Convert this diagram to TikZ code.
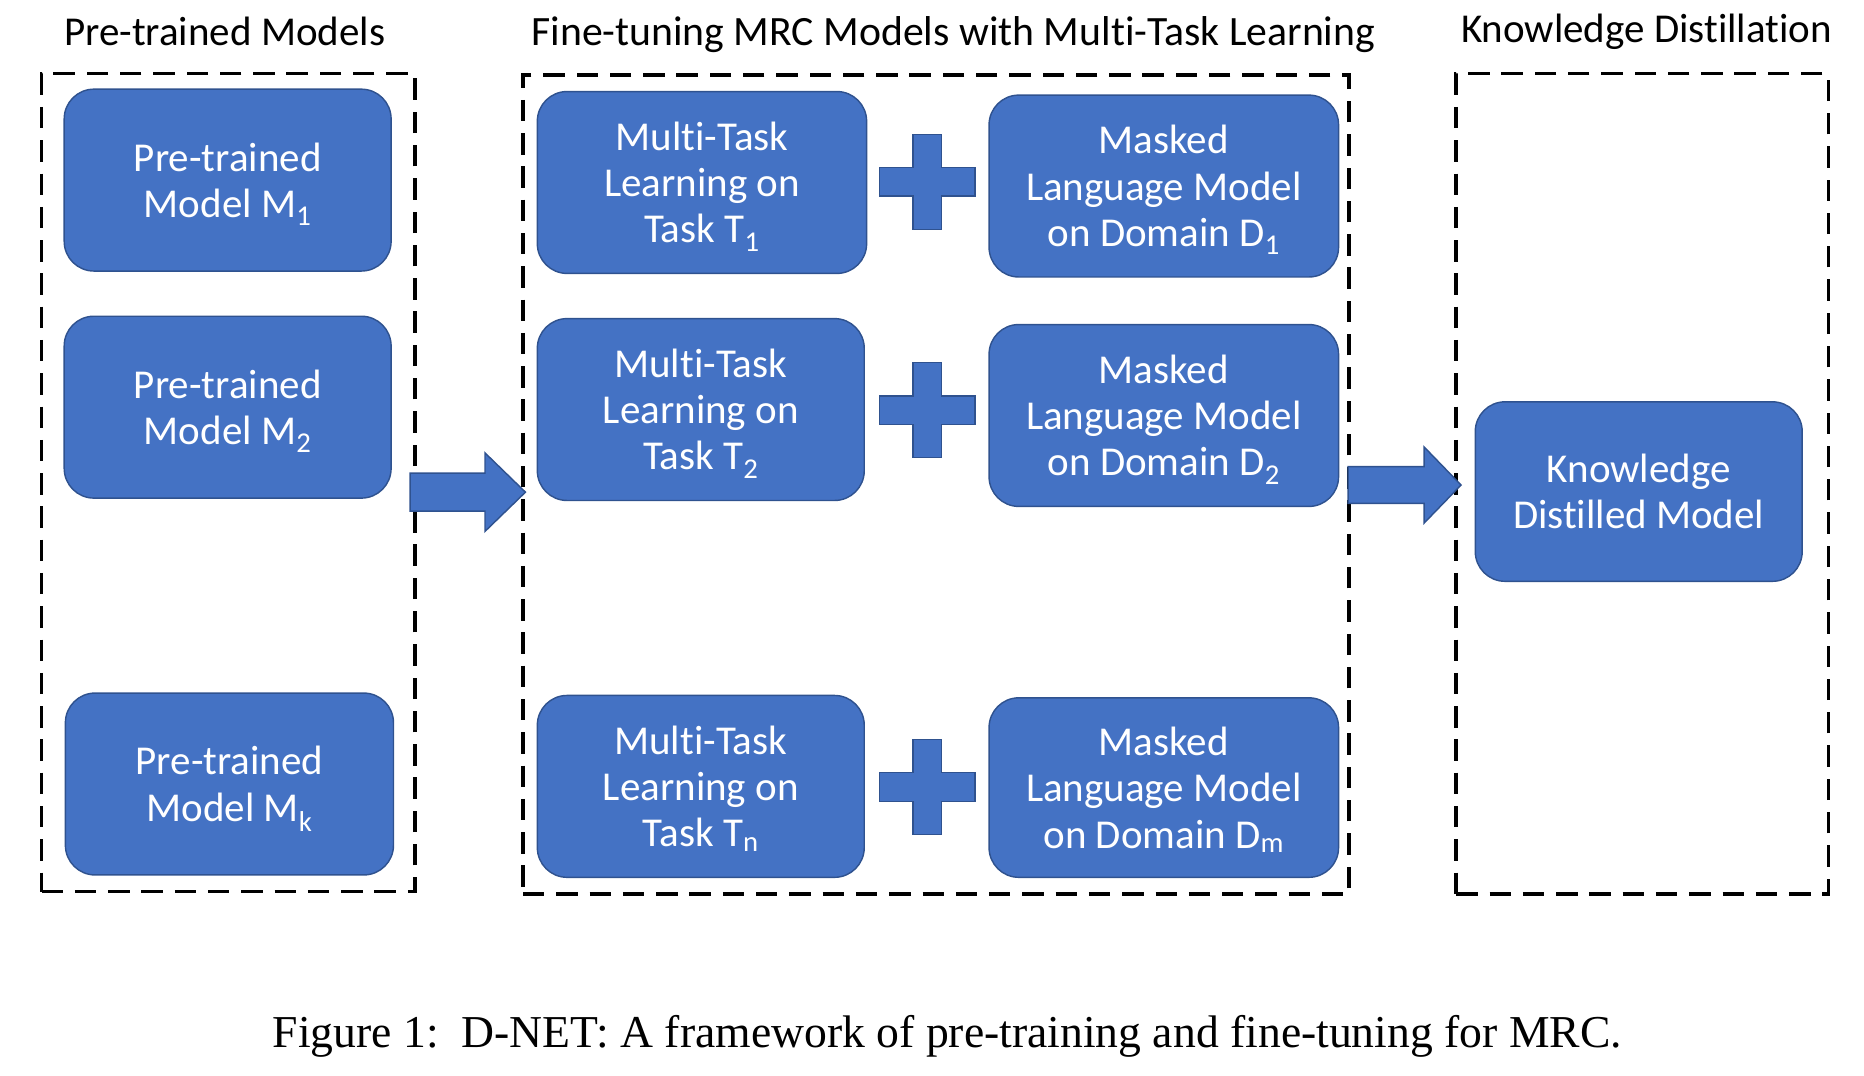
\documentclass[tikz,border=0pt]{standalone}
\usepackage{fontspec}
\setmainfont[Ligatures=NoCommon]{Carlito}
\newfontfamily\capfont{Liberation Serif}
\definecolor{boxblue}{HTML}{4472C4}
\definecolor{boxedge}{HTML}{2F528F}
\newcommand\mysub[1]{\smash{\textsubscript{#1}}}
\begin{document}
\begin{tikzpicture}[x=1pt,y=-1pt,
  blk/.style={draw=boxedge, line width=1.2pt, fill=boxblue, rounded corners=25pt,
    text=white, align=center, font=\fontsize{34.5}{39}\selectfont, inner sep=0pt},
  grp/.style={draw=black, line width=3pt, dash pattern=on 18pt off 10pt, inner sep=0pt},
  hdr/.style={font=\fontsize{34.5}{39}\selectfont, anchor=base},
  barrow/.style={fill=boxblue, draw=boxedge, line width=1.2pt}]
\useasboundingbox (0,0) rectangle (1568,905);

% headers
\node[hdr] (h1) at (189,38) {Pre-trained Models};
\node[hdr, font=\fontsize{35.1}{39}\selectfont] (h2) at (802,38) {Fine-tuning MRC Models with Multi-Task Learning};
\node[hdr] (h3) at (1385,36) {Knowledge Distillation};

% dashed groups
\node[grp, minimum width=314pt, minimum height=688pt] (ga) at (192,406) {};
\node[grp, minimum width=695pt, minimum height=689pt] (gb) at (787.5,407.5) {};
\node[grp, minimum width=313pt, minimum height=690pt] (gc) at (1381.5,407) {};

% pre-trained models
\node[blk, minimum width=275pt, minimum height=153pt] (m1) at (191.5,151.5) {Pre-trained\\Model M\mysub{1}};
\node[blk, minimum width=275pt, minimum height=153pt] (m2) at (191.5,342.5) {Pre-trained\\Model M\mysub{2}};
\node[blk, minimum width=276pt, minimum height=153pt] (mk) at (193,659.5) {Pre-trained\\Model M\mysub{k}};

% multi-task
\node[blk, minimum width=277pt, minimum height=153pt] (t1) at (590.5,153.5) {Multi-Task\\Learning on\\Task T\mysub{1}};
\node[blk, minimum width=275pt, minimum height=153pt] (t2) at (589.5,344.5) {Multi-Task\\Learning on\\Task T\mysub{2}};
\node[blk, minimum width=275pt, minimum height=153pt] (tn) at (589.5,661.5) {Multi-Task\\Learning on\\Task T\mysub{n}};

% masked LM
\node[blk, minimum width=294pt, minimum height=153pt] (d1) at (979,156.5) {Masked\\Language Model\\on Domain D\mysub{1}};
\node[blk, minimum width=294pt, minimum height=153pt] (d2) at (979,349.5) {Masked\\Language Model\\on Domain D\mysub{2}};
\node[blk, minimum width=294pt, minimum height=151pt] (dm) at (979,662.5) {Masked\\Language Model\\on Domain D\mysub{m}};

% distilled
\node[blk, minimum width=275pt, minimum height=151pt] (kd) at (1378.5,413.5) {Knowledge\\Distilled Model};

% plus signs
\foreach \n/\y in {p1/153, p2/345, p3/662} {
  \coordinate (\n) at (780,\y);
  \draw[barrow] (\n) ++(-12,-40) -- ++(24,0) -- ++(0,28) -- ++(28,0) -- ++(0,24)
    -- ++(-28,0) -- ++(0,28) -- ++(-24,0) -- ++(0,-28) -- ++(-28,0) -- ++(0,-24)
    -- ++(28,0) -- cycle;
}

% block arrows
\coordinate (a1s) at (345,414);
\coordinate (a1t) at (442,414);
\draw[barrow] (a1s) ++(0,-16) -- (408,398) -- (408,381) -- (a1t) -- (408,447)
  -- (408,430) -- (345,430) -- cycle;
\coordinate (a2s) at (1134,408);
\coordinate (a2t) at (1229,408);
\draw[barrow] (a2s) ++(0,-15.5) -- (1198,392.5) -- (1198,376) -- (a2t) -- (1198,440)
  -- (1198,423.5) -- (1134,423.5) -- cycle;

% caption
\node[font=\capfont\fontsize{38.4}{42}\selectfont, anchor=base] (cap) at (797,881)
  {Figure 1:\ \ D-NET: A framework of pre-training and fine-tuning for MRC.};
\end{tikzpicture}
\end{document}
